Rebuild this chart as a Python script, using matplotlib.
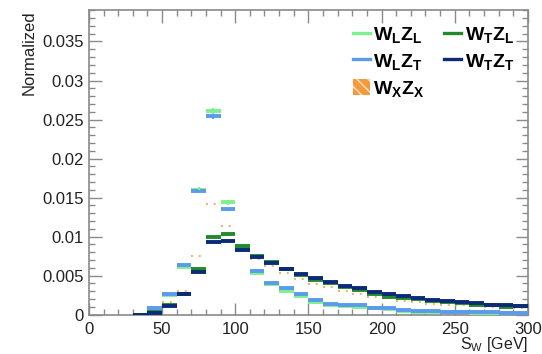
import numpy as np
import matplotlib
matplotlib.use("Agg")
import matplotlib.pyplot as plt
from matplotlib.lines import Line2D
from matplotlib.patches import Patch
from matplotlib.ticker import MultipleLocator

plt.rcParams["font.family"] = ["Liberation Sans", "DejaVu Sans"]
plt.rcParams["mathtext.fontset"] = "custom"
plt.rcParams["mathtext.rm"] = "Liberation Sans"
plt.rcParams["mathtext.bf"] = "Liberation Sans:bold"
plt.rcParams["hatch.linewidth"] = 1.2

# 10 GeV bins from 30 to 300 GeV
edges = np.arange(30, 301, 10)

wlzl = [0.0000, 0.0006, 0.0025, 0.0061, 0.0160, 0.0261, 0.0144, 0.0087, 0.0054,
        0.0039, 0.0030, 0.0024, 0.0016, 0.0012, 0.0011, 0.0010, 0.0008, 0.0007,
        0.0005, 0.0004, 0.0004, 0.0003, 0.0003, 0.0002, 0.0002, 0.0002, 0.0001]
wlzt = [0.0000, 0.0008, 0.0026, 0.0064, 0.0158, 0.0254, 0.0135, 0.0085, 0.0056,
        0.0041, 0.0034, 0.0026, 0.0019, 0.0014, 0.0013, 0.0012, 0.0009, 0.0008,
        0.0006, 0.0005, 0.0005, 0.0004, 0.0004, 0.0003, 0.0003, 0.0002, 0.0002]
wtzl = [0.0000, 0.0003, 0.0012, 0.0026, 0.0058, 0.0100, 0.0103, 0.0088, 0.0075,
        0.0067, 0.0058, 0.0051, 0.0045, 0.0041, 0.0035, 0.0032, 0.0027, 0.0023,
        0.0022, 0.0020, 0.0017, 0.0016, 0.0015, 0.0013, 0.0012, 0.0010, 0.0011]
wtzt = [0.0000, 0.0002, 0.0011, 0.0026, 0.0055, 0.0093, 0.0094, 0.0083, 0.0074,
        0.0066, 0.0059, 0.0052, 0.0047, 0.0042, 0.0037, 0.0034, 0.0029, 0.0026,
        0.0024, 0.0021, 0.0019, 0.0018, 0.0016, 0.0015, 0.0013, 0.0012, 0.0011]
wxzx = [0.0000, 0.0004, 0.0016, 0.0030, 0.0075, 0.0142, 0.0114, 0.0089, 0.0072,
        0.0062, 0.0053, 0.0046, 0.0039, 0.0035, 0.0030, 0.0026, 0.0023, 0.0021,
        0.0018, 0.0016, 0.0014, 0.0013, 0.0012, 0.0011, 0.0010, 0.0009, 0.0008]

# statistical errors, only visible near the peak
wlzl_err = [0, 0, 0, 0, 0.0003, 0.0004, 0.0003, 0, 0, 0, 0, 0, 0, 0, 0, 0, 0,
            0, 0, 0, 0, 0, 0, 0, 0, 0, 0]
wlzt_err = [0, 0, 0, 0, 0.0002, 0.0003, 0.0002, 0, 0, 0, 0, 0, 0, 0, 0, 0, 0,
            0, 0, 0, 0, 0, 0, 0, 0, 0, 0]

c_wlzl = "#7ff08f"
c_wtzl = "#238a2c"
c_wlzt = "#5a9bec"
c_wtzt = "#0b2a78"
c_wxzx = "#f39a3c"

fig = plt.figure(figsize=(5.42, 3.54), dpi=100)
ax = fig.add_axes([0.164, 0.111, 0.81, 0.86])

lo, hi = edges[:-1], edges[1:]
centers = 0.5 * (lo + hi)

lw = 2.8
ax.hlines(wxzx, lo, hi, color=c_wxzx, lw=1.4, linestyles=(0, (1, 3)), alpha=0.8, zorder=2)
ax.hlines(wlzl, lo, hi, color=c_wlzl, lw=lw, zorder=3)
ax.hlines(wlzt, lo, hi, color=c_wlzt, lw=lw, zorder=3)
ax.hlines(wtzl, lo, hi, color=c_wtzl, lw=lw, zorder=3)
ax.hlines(wtzt, lo, hi, color=c_wtzt, lw=lw, zorder=3)
ax.errorbar(centers, wlzl, yerr=wlzl_err, fmt="none", ecolor=c_wlzl, elinewidth=1.5, capsize=0, zorder=3)
ax.errorbar(centers, wlzt, yerr=wlzt_err, fmt="none", ecolor=c_wlzt, elinewidth=1.5, capsize=0, zorder=3)

ax.set_xlim(0, 300)
ax.set_ylim(0, 0.039)
ax.xaxis.set_major_locator(MultipleLocator(50))
ax.xaxis.set_minor_locator(MultipleLocator(10))
ax.yaxis.set_major_locator(MultipleLocator(0.005))
ax.yaxis.set_minor_locator(MultipleLocator(0.001))
ax.set_yticks(np.arange(0, 0.0351, 0.005))
ax.set_yticklabels(["0", "0.005", "0.01", "0.015", "0.02", "0.025", "0.03", "0.035"])

frame = "#8a8a8a"
for s in ax.spines.values():
    s.set_color(frame)
    s.set_linewidth(1.2)
ax.tick_params(which="both", direction="in", top=True, right=True, color=frame,
               labelsize=12, labelcolor="#222222")
ax.tick_params(which="major", length=9, width=1)
ax.tick_params(which="minor", length=4.5, width=1)
ax.tick_params(axis="x", pad=5)

ax.set_ylabel("Normalized", loc="top", fontsize=12, color="#222222", labelpad=4)
ax.set_xlabel(r"S$_\mathregular{W}$ [GeV]", loc="right", fontsize=11.5, color="#222222", labelpad=-1)

handles = [
    Line2D([], [], color=c_wlzl, lw=2.4),
    Line2D([], [], color=c_wlzt, lw=2.4),
    Patch(facecolor=c_wxzx, edgecolor="#fcd9b0", hatch="\\\\\\", lw=0),
    Line2D([], [], color=c_wtzl, lw=2.4),
    Line2D([], [], color=c_wtzt, lw=2.4),
]
labels = [
    r"$\mathbf{W_{L}Z_{L}}$",
    r"$\mathbf{W_{L}Z_{T}}$",
    r"$\mathbf{W_{X}Z_{X}}$",
    r"$\mathbf{W_{T}Z_{L}}$",
    r"$\mathbf{W_{T}Z_{T}}$",
]
ax.legend(handles, labels, ncol=2, loc="upper left", bbox_to_anchor=(0.575, 0.99),
          frameon=False, fontsize=14, handlelength=0.85, handleheight=0.9,
          handletextpad=0.2, columnspacing=1.0, labelspacing=0.35, borderaxespad=0.2)

fig.savefig("out.png", dpi=100)
